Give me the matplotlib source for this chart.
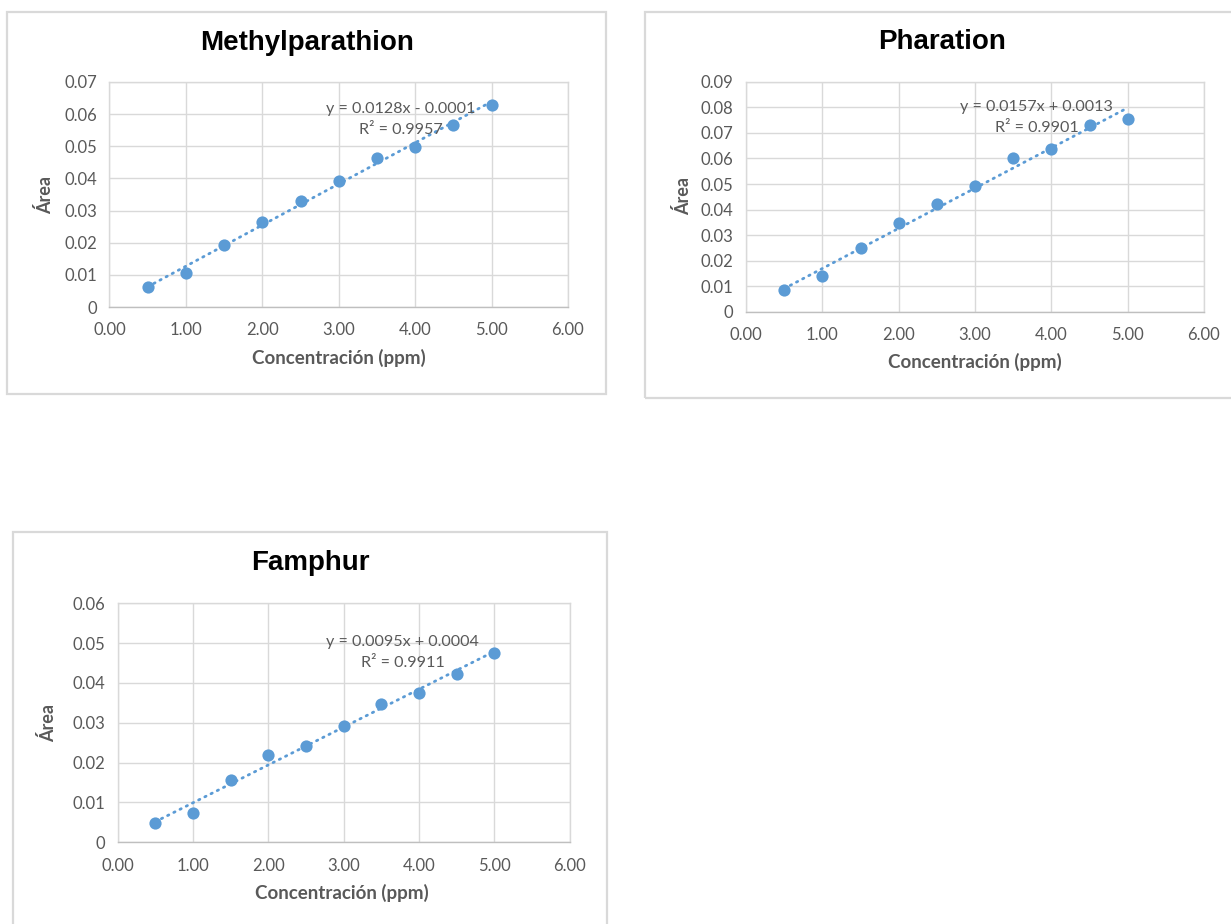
import matplotlib
matplotlib.use("Agg")
import matplotlib.pyplot as plt
import numpy as np
from matplotlib.patches import Rectangle
from matplotlib.ticker import FuncFormatter

# ---------------- data ----------------
conc = [0.5, 1.0, 1.5, 2.0, 2.5, 3.0, 3.5, 4.0, 4.5, 5.0]

methyl_area = [0.0063, 0.0105, 0.0193, 0.0264, 0.0331, 0.0391, 0.0465, 0.0498, 0.0567, 0.0630]
pharation_area = [0.0086, 0.0139, 0.0249, 0.0347, 0.0423, 0.0491, 0.0600, 0.0637, 0.0731, 0.0756]
famphur_area = [0.0049, 0.0074, 0.0156, 0.0219, 0.0243, 0.0293, 0.0347, 0.0376, 0.0422, 0.0475]

titles = ["Methylparathion", "Pharation", "Famphur"]
slopes = [0.0128, 0.0157, 0.0095]
intercepts = [-0.0001, 0.0013, 0.0004]
equations = ["y = 0.0128x - 0.0001\nR² = 0.9957",
             "y = 0.0157x + 0.0013\nR² = 0.9901",
             "y = 0.0095x + 0.0004\nR² = 0.9911"]
y_max = [0.07, 0.09, 0.06]
x_ticks = [0, 1, 2, 3, 4, 5, 6]
x_label = "Concentración (ppm)"
y_label = "Área"

# ---------------- style ----------------
W, H = 1231, 924
BLUE = "#5B9BD5"
GREY_TXT = "#595959"
GRID = "#D9D9D9"
TICK_FONT = "Lato"
TITLE_FONT = "Liberation Sans"

fig = plt.figure(figsize=(W / 100, H / 100), dpi=100)

def fx(x):
    return x / W

def fy(y):
    return 1 - y / H

# axes boxes in pixels: (left, top, right, bottom)
ax_px = [(109.5, 82, 568, 307),
         (746, 81.7, 1204, 312),
         (117.5, 603.3, 569.5, 842.3)]
# chart borders (left, top, right, bottom)
border_px = [(7, 12.3, 605.7, 394.3),
             (645, 12, 1240, 397.7),
             (12.7, 532, 607, 940)]
title_px = [(307, 43), (942.5, 42), (310, 563)]
ylab_px = [(45, 195), (683, 196), (48, 723)]
xlab_px = [(339, 358), (975, 362), (342, 893)]
eq_pos = [(0.636, 0.834), (0.635, 0.845), (0.631, 0.794)]

series = [methyl_area, pharation_area, famphur_area]

for i in range(3):
    l, t, r, b = border_px[i]
    fig.patches.append(Rectangle((fx(l), fy(b)), fx(r) - fx(l), fy(t) - fy(b),
                                 transform=fig.transFigure, fill=False,
                                 edgecolor=GRID, linewidth=1.6, zorder=0))

    l, t, r, b = ax_px[i]
    ax = fig.add_axes([fx(l), fy(b), fx(r) - fx(l), fy(t) - fy(b)])
    ax.set_xlim(0, 6)
    ax.set_ylim(0, y_max[i])
    ax.set_xticks(x_ticks)
    ax.set_yticks(np.round(np.arange(0, y_max[i] + 1e-9, 0.01), 2))
    ax.xaxis.set_major_formatter(FuncFormatter(lambda v, p: f"{v:.2f}"))
    ax.yaxis.set_major_formatter(FuncFormatter(lambda v, p: "0" if abs(v) < 1e-12 else f"{v:.2f}"))
    ax.grid(True, color=GRID, linewidth=1.0)
    ax.set_axisbelow(True)
    for s in ax.spines.values():
        s.set_color(GRID)
        s.set_linewidth(1.0)
    ax.spines["bottom"].set_color("#BFBFBF")
    ax.tick_params(length=0, labelsize=12, labelcolor=GREY_TXT, pad=9)
    ax.tick_params(axis="x", pad=11)
    for lab in ax.get_xticklabels() + ax.get_yticklabels():
        lab.set_fontfamily(TICK_FONT)

    x = np.array(conc)
    xl = np.array([x.min(), x.max()])
    ax.plot(xl, slopes[i] * xl + intercepts[i], linestyle=(0, (0.5, 2.0)),
            color=BLUE, linewidth=2.0, dash_capstyle="round", zorder=2)
    ax.plot(x, series[i], "o", color=BLUE, markersize=8.8, markeredgewidth=0, zorder=3)

    ax.text(eq_pos[i][0], eq_pos[i][1], equations[i], transform=ax.transAxes,
            ha="center", va="center", multialignment="center",
            fontsize=11.6, color=GREY_TXT, family=TICK_FONT, linespacing=1.7, zorder=4)

    fig.text(fx(title_px[i][0]), fy(title_px[i][1]), titles[i], ha="center", va="center",
             fontsize=20, fontweight="bold", family=TITLE_FONT, color="black")
    fig.text(fx(ylab_px[i][0]), fy(ylab_px[i][1]), y_label, ha="center", va="center",
             rotation=90, fontsize=13, fontweight="bold", family=TICK_FONT, color=GREY_TXT)
    fig.text(fx(xlab_px[i][0]), fy(xlab_px[i][1]), x_label, ha="center", va="center",
             fontsize=13.5, fontweight="bold", family=TICK_FONT, color=GREY_TXT)

fig.savefig("out.png", dpi=100, facecolor="white")
